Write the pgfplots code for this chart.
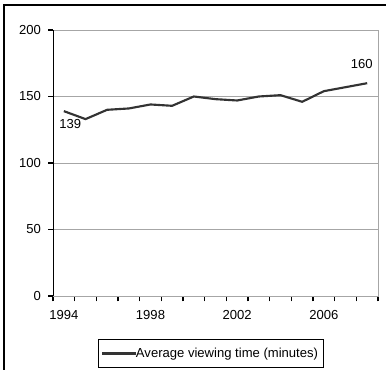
\documentclass[border=0pt]{standalone}
\usepackage{pgfplots}
\pgfplotsset{compat=1.18}
\usepackage{fontspec}
\setmainfont{Liberation Sans}
\definecolor{lineC}{HTML}{333333}
\definecolor{gridC}{HTML}{A6A6A6}
\begin{document}
\begin{tikzpicture}[x=0.75pt,y=0.75pt]
\useasboundingbox (-53,-74) rectangle (333,296);
\draw[black,line width=0.9pt] (-49,-80) -- (-49,291) -- (340,291);
\begin{axis}[
  at={(0,0)}, anchor=south west,
  scale only axis, width=243.75pt, height=199.5pt,
  xmin=1993.5, xmax=2008.5, ymin=0, ymax=200,
  xtick={1994,1998,2002,2006},
  xticklabels={1994,1998,2002,2006},
  minor xtick={1993.5,1994.5,1995.5,1996.5,1997.5,1998.5,1999.5,2000.5,2001.5,2002.5,2003.5,2004.5,2005.5,2006.5,2007.5,2008.5},
  major x tick style={draw=none},
  minor x tick style={black, line width=0.9pt},
  xticklabel style={yshift=-4pt},
  ytick={0,50,100,150,200},
  xtick pos=left, ytick pos=left, tick align=outside,
  major tick length=3.5pt, minor tick length=4pt,
  tick style={black, line width=0.8pt},
  ymajorgrids, grid style={gridC, line width=0.6pt},
  axis line style={gridC, line width=0.6pt},
  font=\fontsize{9.8pt}{11pt}\selectfont,
  /pgf/number format/assume math mode=true,
  yticklabel style={xshift=-2pt},
  legend style={at={(0.486,0)}, anchor=north, yshift=-32pt, draw=black, line width=0.6pt,
    inner xsep=2pt, inner ysep=4.5pt, font=\fontsize{9.8pt}{11pt}\selectfont},
  legend image code/.code={\draw[#1] (0pt,0pt) -- (25pt,0pt);},
  legend cell align=left,
]
\addplot[lineC, line width=1.6pt, mark=none] coordinates {
(1994,139) (1995,133) (1996,140) (1997,141) (1998,144) (1999,143)
(2000,150) (2001,148) (2002,147) (2003,150) (2004,151) (2005,146)
(2006,154) (2007,157) (2008,160)};
\addlegendentry{\hspace{-2.5pt}Average viewing time (minutes)}
\draw[black, line width=0.7pt] (rel axis cs:0,0) -- (rel axis cs:0,1);
\draw[black, line width=0.7pt] (rel axis cs:0,0) -- (rel axis cs:1,0);
\node[anchor=center, inner sep=0pt] at (axis cs:1994.3,129) {139};
\node[anchor=center, inner sep=0pt] at (axis cs:2007.75,174.5) {160};
\end{axis}
\end{tikzpicture}
\end{document}
